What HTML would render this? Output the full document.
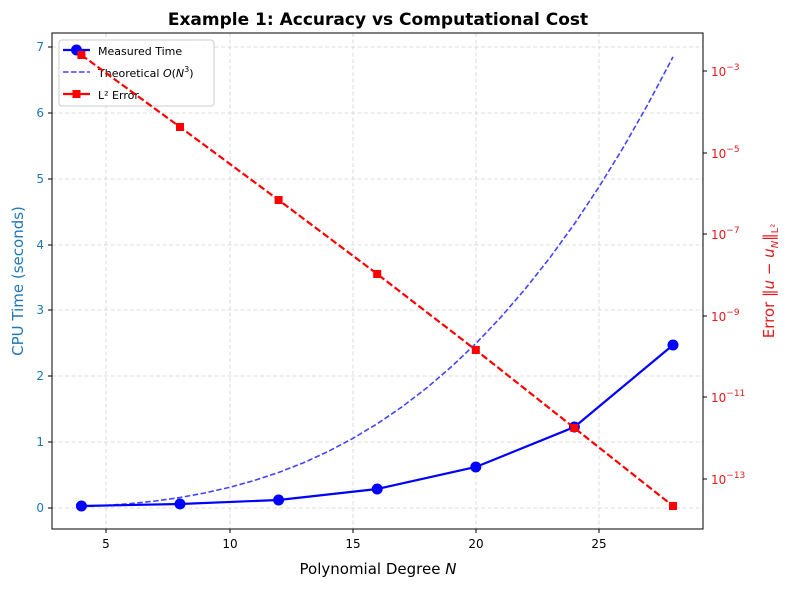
<!DOCTYPE html>
<html><head><style>body{margin:0;background:#fff}svg{display:block;font-family:"DejaVu Sans","Liberation Sans",sans-serif}</style></head><body>
<svg width="789" height="590" xmlns="http://www.w3.org/2000/svg">
<rect width="789" height="590" fill="#fff"/>
<text x="378" y="25" font-size="17" font-weight="bold" text-anchor="middle">Example 1: Accuracy vs Computational Cost</text>
<g stroke="#d3d3d3" stroke-width="0.8" stroke-dasharray="4,2.5">
<line x1="106" y1="33" x2="106" y2="529"/><line x1="230" y1="33" x2="230" y2="529"/><line x1="353" y1="33" x2="353" y2="529"/><line x1="476" y1="33" x2="476" y2="529"/><line x1="599" y1="33" x2="599" y2="529"/>
<line x1="52" y1="508" x2="703" y2="508"/><line x1="52" y1="442" x2="703" y2="442"/><line x1="52" y1="376" x2="703" y2="376"/><line x1="52" y1="310" x2="703" y2="310"/><line x1="52" y1="245" x2="703" y2="245"/><line x1="52" y1="179" x2="703" y2="179"/><line x1="52" y1="113" x2="703" y2="113"/><line x1="52" y1="47" x2="703" y2="47"/>
</g>
<polyline fill="none" stroke="#4444ff" stroke-width="1.6" stroke-dasharray="5.5,2.5" points="81.4,506.7 106,505.4 130.7,503.6 155.3,501 180,497.5 204.6,493 229.3,487.4 253.9,480.6 278.6,472.5 303.2,462.9 327.9,451.6 352.5,438.6 377.2,423.8 401.8,407 426.5,388.1 451.1,367 475.8,343.6 500.4,317.7 525,289.2 549.7,258 574.4,223.9 599,186.9 623.7,146.8 648.3,103.5 673,56.9"/>
<polyline fill="none" stroke="#0000ff" stroke-width="2.2" points="81.4,506 180,504 278.6,500 377.2,489 475.8,467 574.4,427 673,345"/>
<g fill="#0000ff"><circle cx="81.4" cy="506" r="5.5"/><circle cx="180" cy="504" r="5.5"/><circle cx="278.6" cy="500" r="5.5"/><circle cx="377.2" cy="489" r="5.5"/><circle cx="475.8" cy="467" r="5.5"/><circle cx="574.4" cy="427" r="5.5"/><circle cx="673" cy="345" r="5.5"/></g>
<rect x="59" y="40" width="155" height="66" rx="3" fill="#fff" fill-opacity="0.8" stroke="#ccc"/>
<line x1="63" y1="50" x2="90" y2="50" stroke="#0000ff" stroke-width="2.2"/><circle cx="76.5" cy="50" r="5.5" fill="#0000ff"/>
<text x="98" y="55" font-size="11">Measured Time</text>
<line x1="63" y1="72" x2="90" y2="72" stroke="#4444ff" stroke-width="1.6" stroke-dasharray="5.5,2.5"/>
<text x="98" y="77" font-size="11">Theoretical <tspan font-style="italic">O</tspan>(<tspan font-style="italic">N</tspan><tspan font-size="8" dy="-5">3</tspan><tspan dy="5">)</tspan></text>
<line x1="63" y1="94" x2="90" y2="94" stroke="#ff0000" stroke-width="2.2"/><rect x="72.5" y="90" width="8" height="8" fill="#ff0000"/>
<text x="98" y="99" font-size="11">L² Error</text>
<polyline fill="none" stroke="#ff0000" stroke-width="2.2" stroke-dasharray="7,3" points="81.4,55 180,127 278.6,200 377.2,274 475.8,350 574.4,428 673,506"/>
<g fill="#ff0000"><rect x="77.4" y="51" width="8" height="8"/><rect x="176" y="123" width="8" height="8"/><rect x="274.6" y="196" width="8" height="8"/><rect x="373.2" y="270" width="8" height="8"/><rect x="471.8" y="346" width="8" height="8"/><rect x="570.4" y="424" width="8" height="8"/><rect x="669" y="502" width="8" height="8"/></g>
<rect x="52" y="33" width="651" height="496" fill="none" stroke="#000" stroke-width="1"/>
<g stroke="#000"><line x1="106" y1="529" x2="106" y2="533"/><line x1="230" y1="529" x2="230" y2="533"/><line x1="353" y1="529" x2="353" y2="533"/><line x1="476" y1="529" x2="476" y2="533"/><line x1="599" y1="529" x2="599" y2="533"/>
<line x1="48" y1="508" x2="52" y2="508"/><line x1="48" y1="442" x2="52" y2="442"/><line x1="48" y1="376" x2="52" y2="376"/><line x1="48" y1="310" x2="52" y2="310"/><line x1="48" y1="245" x2="52" y2="245"/><line x1="48" y1="179" x2="52" y2="179"/><line x1="48" y1="113" x2="52" y2="113"/><line x1="48" y1="47" x2="52" y2="47"/>
<line x1="703" y1="71" x2="707" y2="71"/><line x1="703" y1="153" x2="707" y2="153"/><line x1="703" y1="234" x2="707" y2="234"/><line x1="703" y1="316" x2="707" y2="316"/><line x1="703" y1="397" x2="707" y2="397"/><line x1="703" y1="479" x2="707" y2="479"/></g>
<g font-size="12" text-anchor="middle"><text x="106" y="548">5</text><text x="230" y="548">10</text><text x="353" y="548">15</text><text x="476" y="548">20</text><text x="599" y="548">25</text></g>
<g font-size="12" text-anchor="end" fill="#1f77b4"><text x="44" y="512">0</text><text x="44" y="446">1</text><text x="44" y="380">2</text><text x="44" y="314">3</text><text x="44" y="249">4</text><text x="44" y="183">5</text><text x="44" y="117">6</text><text x="44" y="51">7</text></g>
<g font-size="12" fill="#e41a1c"><text x="711" y="76">10<tspan font-size="9" dy="-6">−3</tspan></text><text x="711" y="158">10<tspan font-size="9" dy="-6">−5</tspan></text><text x="711" y="239">10<tspan font-size="9" dy="-6">−7</tspan></text><text x="711" y="321">10<tspan font-size="9" dy="-6">−9</tspan></text><text x="711" y="402">10<tspan font-size="9" dy="-6">−11</tspan></text><text x="711" y="484">10<tspan font-size="9" dy="-6">−13</tspan></text></g>
<text x="378" y="574" font-size="15" text-anchor="middle">Polynomial Degree <tspan font-style="italic">N</tspan></text>
<text transform="translate(23,281) rotate(-90)" font-size="15" text-anchor="middle" fill="#1f77b4">CPU Time (seconds)</text>
<text transform="translate(774,281) rotate(-90)" font-size="15" text-anchor="middle" fill="#e41a1c">Error ‖<tspan font-style="italic">u</tspan> − <tspan font-style="italic">u</tspan><tspan font-size="10" dy="4" font-style="italic">N</tspan><tspan dy="-4">‖</tspan><tspan font-size="10" dy="4">L²</tspan></text>
</svg>
</body></html>
